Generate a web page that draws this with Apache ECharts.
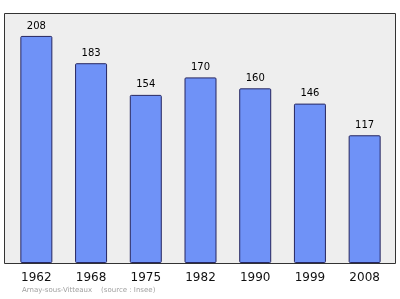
<!DOCTYPE html>
<html><head><meta charset="utf-8">
<script src="https://cdn.jsdelivr.net/npm/echarts@6/dist/echarts.min.js"></script>
<style>html,body{margin:0;padding:0;background:#fff}#c{width:400px;height:299px}</style>
</head><body><div id="c"></div>
<script>
const years = ['1962','1968','1975','1982','1990','1999','2008'];
const population = [208,183,154,170,160,146,117];
const footer = 'Arnay-sous-Vitteaux    (source : Insee)';

const chart = echarts.init(document.getElementById('c'), null, {renderer:'canvas'});
chart.setOption({
  animation:false,
  backgroundColor:'#ffffff',
  graphic:[
    {type:'rect', z:-10, shape:{x:4.5,y:13.5,width:391,height:250},
     style:{fill:'#eeeeee', stroke:'#333333', lineWidth:1}},
    {type:'text', left:22, top:287, style:{text:footer, fill:'#a0a0a0', font:'7px "DejaVu Sans", sans-serif'}}
  ],
  grid:{left:9, right:8, top:13, bottom:36},
  xAxis:{type:'category', data:years,
    axisLine:{show:false}, axisTick:{show:false},
    axisLabel:{color:'#111', fontSize:12, margin:9, fontFamily:'"DejaVu Sans", sans-serif'}},
  yAxis:{type:'value', min:0, max:229, show:false, splitLine:{show:false}},
  series:[{type:'bar', data:population, barWidth:32,
    itemStyle:{color:'#6f92f7', borderColor:'#262660', borderWidth:1, borderRadius:1},
    label:{show:true, position:'top', distance:5, color:'#000', fontSize:10, fontFamily:'"DejaVu Sans", sans-serif'}}]
});
</script></body></html>
